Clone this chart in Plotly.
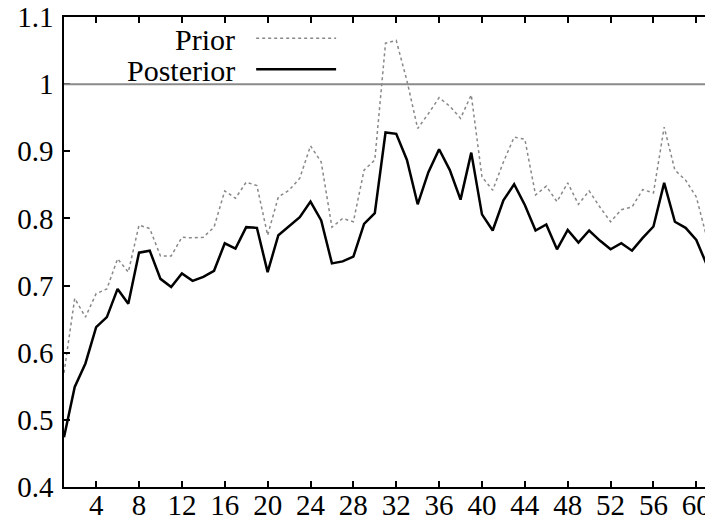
import plotly.graph_objects as go

x_vals = list(range(1, 62))
prior = [0.57, 0.681, 0.653, 0.688, 0.695, 0.740, 0.720, 0.790, 0.785, 0.744,
         0.744, 0.772, 0.771, 0.772, 0.787, 0.841, 0.830, 0.854, 0.849, 0.775,
         0.832, 0.842, 0.860, 0.908, 0.884, 0.787, 0.800, 0.795, 0.872, 0.887,
         1.061, 1.065, 1.005, 0.934, 0.956, 0.980, 0.967, 0.949, 0.984, 0.862,
         0.842, 0.884, 0.921, 0.918, 0.835, 0.848, 0.825, 0.853, 0.821, 0.841,
         0.817, 0.795, 0.813, 0.817, 0.843, 0.838, 0.936, 0.872, 0.857, 0.832,
         0.770]
posterior = [0.474, 0.549, 0.584, 0.638, 0.653, 0.695, 0.673, 0.749, 0.752, 0.710,
             0.698, 0.718, 0.707, 0.713, 0.722, 0.763, 0.755, 0.787, 0.786, 0.720,
             0.775, 0.788, 0.802, 0.825, 0.797, 0.733, 0.736, 0.743, 0.792, 0.808,
             0.928, 0.926, 0.887, 0.821, 0.869, 0.903, 0.872, 0.828, 0.898, 0.806,
             0.782, 0.827, 0.851, 0.820, 0.782, 0.791, 0.754, 0.783, 0.764, 0.782,
             0.767, 0.754, 0.763, 0.752, 0.771, 0.788, 0.853, 0.795, 0.786, 0.768,
             0.730]
x_ticks = list(range(4, 61, 4))
y_ticks = [0.4, 0.5, 0.6, 0.7, 0.8, 0.9, 1.0, 1.1]
y_tick_text = ["0.4", "0.5", "0.6", "0.7", "0.8", "0.9", "1", "1.1"]
ref_level = 1.0

FONT = "Liberation Serif, Times New Roman, serif"

fig = go.Figure()
fig.add_trace(go.Scatter(x=x_vals, y=prior, mode="lines", name="Prior",
                         line=dict(color="#888888", width=1.5, dash="dot"),
                         showlegend=False))
fig.add_trace(go.Scatter(x=x_vals, y=posterior, mode="lines", name="Posterior",
                         line=dict(color="black", width=2.5),
                         showlegend=False))

fig.add_hline(y=ref_level, line=dict(color="#8a8a8a", width=2))

# legend drawn manually (text right-aligned, sample to the right)
fig.add_annotation(xref="paper", yref="paper", x=0.270, y=0.953, text="Prior",
                   showarrow=False, xanchor="right", yanchor="middle",
                   font=dict(family=FONT, size=30, color="black"))
fig.add_annotation(xref="paper", yref="paper", x=0.270, y=0.887, text="Posterior",
                   showarrow=False, xanchor="right", yanchor="middle",
                   font=dict(family=FONT, size=30, color="black"))
fig.add_shape(type="line", xref="paper", yref="paper", x0=0.2998, x1=0.4245,
              y0=0.955, y1=0.955, line=dict(color="#888888", width=1.5, dash="dot"))
fig.add_shape(type="line", xref="paper", yref="paper", x0=0.2998, x1=0.4245,
              y0=0.889, y1=0.889, line=dict(color="black", width=2.5))

fig.update_xaxes(range=[1, 60.81], tickvals=x_ticks, ticks="inside", ticklen=6,
                 tickwidth=1.5, tickcolor="black", showline=True, linecolor="black",
                 linewidth=1.5, mirror="allticks", showgrid=False, zeroline=False,
                 tickfont=dict(family=FONT, size=29, color="black"),
                 ticklabeloverflow="allow", ticklabelstandoff=-9,
                 automargin=False)
fig.update_yaxes(range=[0.4, 1.1], tickvals=y_ticks, ticktext=y_tick_text,
                 ticks="inside", ticklen=6, tickwidth=1.5, tickcolor="black",
                 showline=True, linecolor="black", linewidth=1.5, showgrid=False,
                 zeroline=False, tickfont=dict(family=FONT, size=29, color="black"),
                 ticklabelstandoff=3, automargin=False)

fig.update_layout(width=705, height=517, margin=dict(l=64, r=0, t=17, b=30),
                  plot_bgcolor="white", paper_bgcolor="white",
                  font=dict(family=FONT))

fig.write_html("out.html")
